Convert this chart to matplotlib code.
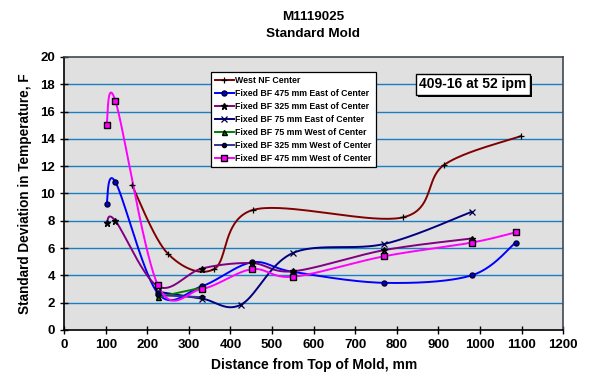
import numpy as np
import matplotlib
matplotlib.use("Agg")
import matplotlib.pyplot as plt
import matplotlib.patheffects as pe

plt.rcParams['font.family'] = ['Liberation Sans', 'DejaVu Sans']
plt.rcParams['font.weight'] = 'bold'

# distance from top of mold (mm) and std. deviation (F) per thermocouple row
west_nf_x = [163, 249, 360, 455, 815, 914, 1098]
west_nf_y = [10.6, 5.6, 4.45, 8.8, 8.25, 12.1, 14.2]

bf475e_x = [102, 123, 225, 331, 451, 551, 770, 980, 1086]
bf475e_y = [9.2, 10.85, 2.7, 3.2, 4.95, 4.25, 3.45, 4.0, 6.4]

bf325e_x = [102, 123, 225, 331, 451, 551, 770, 980]
bf325e_y = [7.85, 8.0, 3.2, 4.5, 4.9, 4.3, 5.85, 6.7]

bf75e_x = [225, 331, 425, 551, 770, 980]
bf75e_y = [2.8, 2.3, 1.85, 5.65, 6.3, 8.65]

bf75w_x = [225, 331]
bf75w_y = [2.4, 3.1]

bf325w_x = [225, 331]
bf325w_y = [2.55, 2.4]

bf475w_x = [102, 123, 225, 331, 451, 551, 770, 980, 1086]
bf475w_y = [15.0, 16.8, 3.3, 3.0, 4.45, 3.9, 5.4, 6.4, 7.15]

labels = ["West NF Center",
          "Fixed BF 475 mm East of Center",
          "Fixed BF 325 mm East of Center",
          "Fixed BF 75 mm East of Center",
          "Fixed BF 75 mm West of Center",
          "Fixed BF 325 mm West of Center",
          "Fixed BF 475 mm West of Center"]

# pixels per data unit, so the smoothing is done in screen space
SX, SY = 0.416, 13.65


def smooth(xs, ys, n=40):
    pts = np.column_stack([np.asarray(xs, float) * SX, np.asarray(ys, float) * SY])
    if len(pts) < 3:
        return np.asarray(xs, float), np.asarray(ys, float)
    ext = np.vstack([pts[0], pts, pts[-1]])
    t = np.linspace(0, 1, n)[:, None]
    segs = []
    for i in range(len(pts) - 1):
        p0, p1, p2, p3 = ext[i], ext[i + 1], ext[i + 2], ext[i + 3]
        c1 = p1 + (p2 - p0) / 6
        c2 = p2 - (p3 - p1) / 6
        seg = (1 - t) ** 3 * p1 + 3 * (1 - t) ** 2 * t * c1 + 3 * (1 - t) * t ** 2 * c2 + t ** 3 * p2
        segs.append(seg if i == 0 else seg[1:])
    out = np.vstack(segs)
    return out[:, 0] / SX, out[:, 1] / SY


series = [
    (west_nf_x, west_nf_y, '#800000', dict(marker='+', mec='black', ms=5, mew=0.9)),
    (bf475e_x, bf475e_y, '#0000ff', dict(marker='o', mfc='#0000cc', mec='#000033', ms=3.6)),
    (bf325e_x, bf325e_y, '#800080', dict(marker='*', mfc='black', mec='black', ms=4.5)),
    (bf75e_x, bf75e_y, '#000080', dict(marker='x', mec='#000040', ms=4.5, mew=0.9)),
    (bf75w_x, bf75w_y, '#008000', dict(marker='^', mfc='#008000', mec='black', ms=3.6)),
    (bf325w_x, bf325w_y, '#333399', dict(marker='o', mfc='#000066', mec='black', ms=3)),
    (bf475w_x, bf475w_y, '#ff00ff', dict(marker='s', mfc='#ff00ff', mec='black', ms=4.5)),
]

fig = plt.figure(figsize=(5.89, 3.85), dpi=100)
ax = fig.add_axes([0.109, 0.143, 0.847, 0.709])
ax.set_facecolor('#e0e0e0')

for yv in range(2, 20, 2):
    ax.axhline(yv, color='#1a7fc0', lw=1.0, zorder=1)

handles = []
for (xs, ys, col, mk), lab in zip(series, labels):
    sx, sy = smooth(xs, ys)
    ax.plot(sx, sy, color=col, lw=1.4, zorder=3)
    ax.plot(xs, ys, ls='none', zorder=4, **mk)
    h, = ax.plot([], [], color=col, lw=1.4, **mk)
    handles.append(h)

ax.set_xlim(0, 1200)
ax.set_ylim(0, 20)
ax.set_xticks(range(0, 1201, 100))
ax.set_yticks(range(0, 21, 2))
ax.tick_params(direction='inout', length=6, width=1, labelsize=9.5)
for lbl in ax.get_xticklabels() + ax.get_yticklabels():
    lbl.set_fontweight('bold')

for side in ['left', 'bottom']:
    ax.spines[side].set_color('black')
    ax.spines[side].set_linewidth(1.2)
for side in ['top', 'right']:
    ax.spines[side].set_color('#404850')
    ax.spines[side].set_linewidth(1.2)

ax.set_xlabel('Distance from Top of Mold, mm', fontsize=10, fontweight='bold', labelpad=5)
ax.set_ylabel('Standard Deviation in Temperature, F', fontsize=9.8, fontweight='bold', labelpad=6)
fig.text(0.532, 0.934, 'M1119025\nStandard Mold', ha='center', va='center',
         fontsize=9.7, fontweight='bold', linespacing=1.5)

leg = ax.legend(handles, labels, loc='upper left', bbox_to_anchor=(0.285, 0.962),
                prop={'size': 6.3, 'weight': 'bold'}, handlelength=2.1,
                handletextpad=0.2, labelspacing=0.45, borderpad=0.5,
                fancybox=False, framealpha=1, edgecolor='black')
leg.get_frame().set_linewidth(0.9)

box = ax.text(983, 18.0, '409-16 at 52 ipm', ha='center', va='center', fontsize=10,
              fontweight='bold', zorder=6,
              bbox=dict(boxstyle='square,pad=0.25', fc='white', ec='black', lw=1))
box.get_bbox_patch().set_path_effects([
    pe.SimplePatchShadow(offset=(1.5, -1.5), shadow_rgbFace='black', alpha=1),
    pe.Normal()])

fig.savefig('out.png', dpi=100)
